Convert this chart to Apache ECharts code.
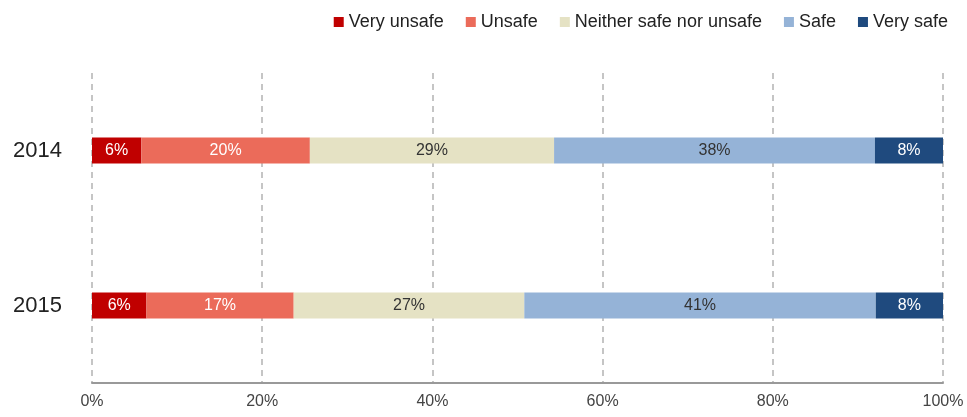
<!DOCTYPE html>
<html>
<head>
<meta charset="utf-8">
<script src="https://cdn.jsdelivr.net/npm/echarts@6/dist/echarts.min.js"></script>
<style>
  html, body { margin: 0; padding: 0; background: #fff; }
  #chart { width: 967px; height: 417px; }
</style>
</head>
<body>
<div id="chart"></div>
<script>
// Survey years (top to bottom)
const years = ['2014', '2015'];

// Share of respondents per answer, in percent
const veryUnsafe = [5.8, 6.4];
const unsafe = [19.8, 17.3];
const neither = [28.7, 27.1];
const safe = [37.7, 41.3];
const verySafe = [8.0, 7.9];

const seriesNames = ['Very unsafe', 'Unsafe', 'Neither safe nor unsafe', 'Safe', 'Very safe'];
const seriesValues = [veryUnsafe, unsafe, neither, safe, verySafe];
const seriesColors = ['#C00000', '#EB6B5A', '#E5E2C4', '#95B3D7', '#1F4A7E'];
const labelColors = ['#ffffff', '#ffffff', '#333333', '#333333', '#ffffff'];

const xTicks = [0, 20, 40, 60, 80, 100];

const FONT = '"Liberation Sans", Arial, sans-serif';

const chart = echarts.init(document.getElementById('chart'));

chart.setOption({
  animation: false,
  textStyle: { fontFamily: FONT },
  legend: {
    data: seriesNames,
    top: 8,
    right: 14,
    itemWidth: 10,
    itemHeight: 10,
    itemGap: 22,
    icon: 'rect',
    textStyle: { fontSize: 18, color: '#222', fontFamily: FONT }
  },
  grid: { left: 92, right: 24, top: 73, bottom: 34, containLabel: false },
  xAxis: {
    type: 'value',
    min: xTicks[0],
    max: xTicks[xTicks.length - 1],
    interval: 20,
    axisLine: { show: true, lineStyle: { color: '#999', width: 2 } },
    axisTick: { show: false },
    axisLabel: {
      fontSize: 16,
      color: '#444',
      margin: 11,
      formatter: v => v + '%'
    },
    splitLine: {
      show: true,
      lineStyle: { color: '#b3b3b3', type: [6, 5], width: 1.5 }
    }
  },
  yAxis: {
    type: 'category',
    data: years,
    inverse: true,
    axisLine: { show: false },
    axisTick: { show: false },
    axisLabel: { fontSize: 22, color: '#222', margin: 30 }
  },
  series: seriesNames.map((name, i) => ({
    name: name,
    type: 'bar',
    stack: 'total',
    barWidth: 26,
    data: seriesValues[i],
    itemStyle: { color: seriesColors[i] },
    label: {
      show: true,
      position: 'inside',
      fontSize: 16,
      color: labelColors[i],
      formatter: p => Math.round(p.value) + '%'
    }
  }))
});
</script>
</body>
</html>
